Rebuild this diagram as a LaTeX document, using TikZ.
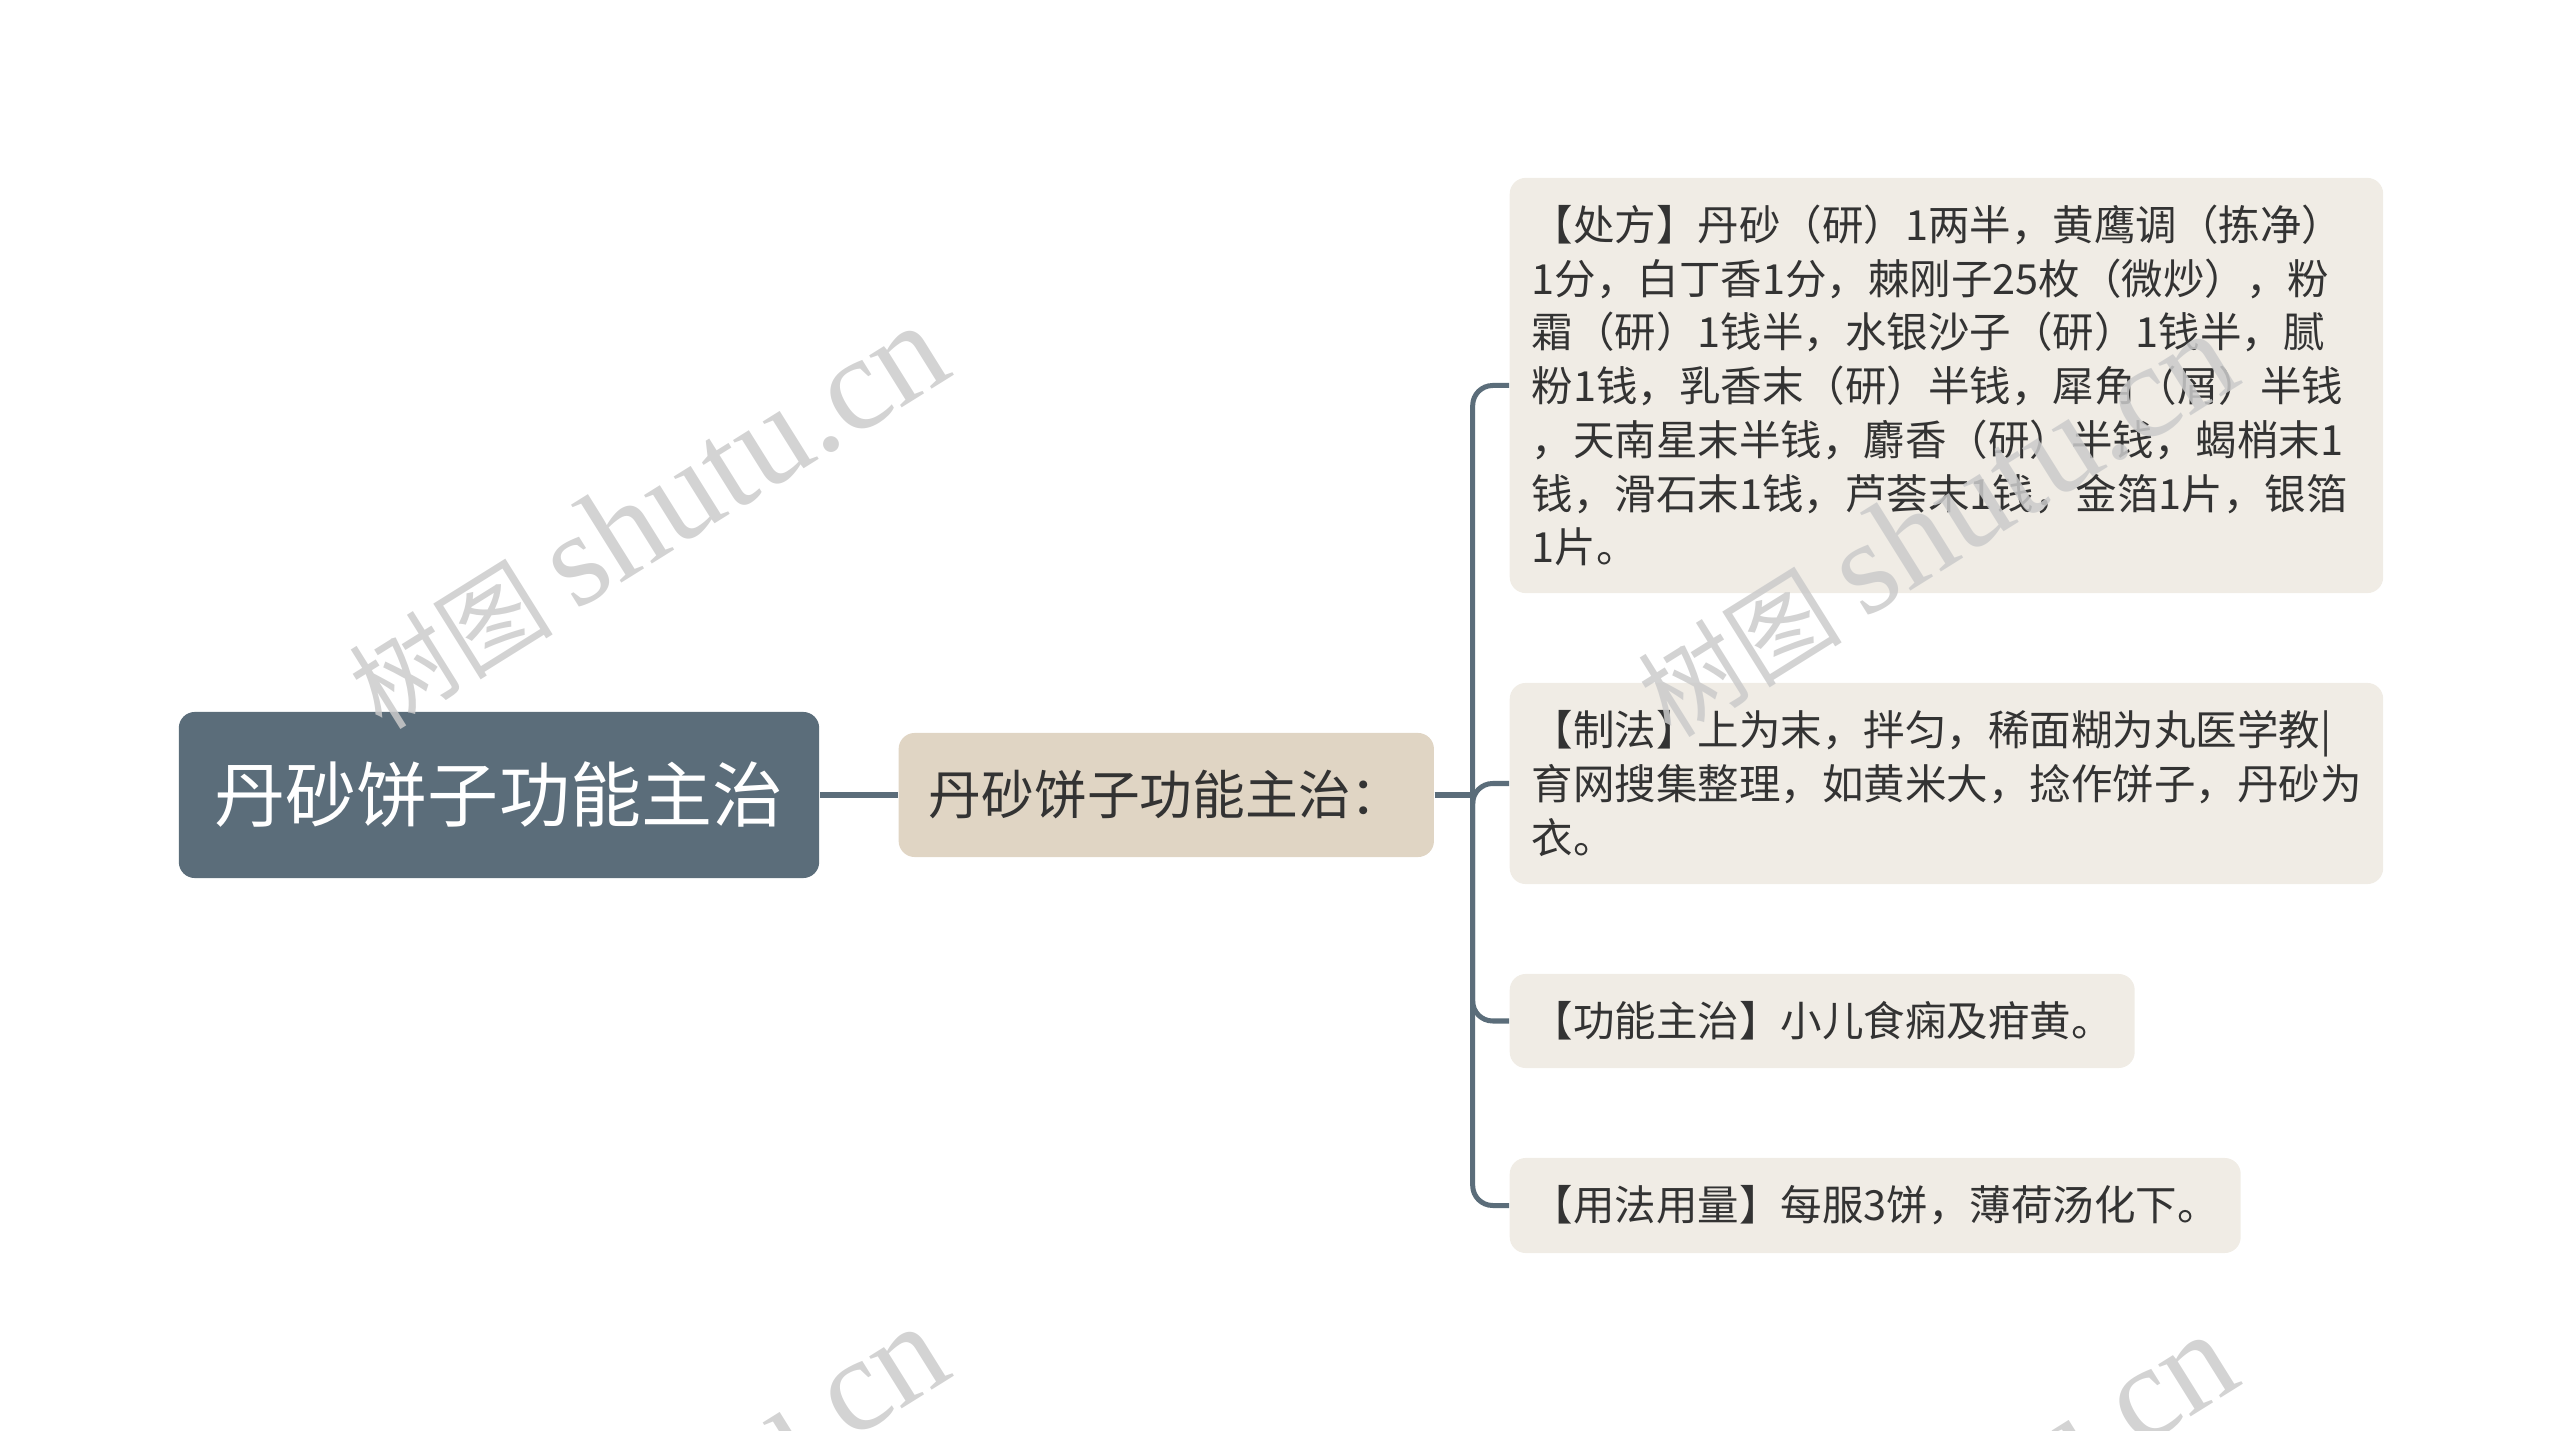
\documentclass[tikz,border=0pt]{standalone}
\usepackage{fontspec}
\setmainfont{Noto Sans CJK SC}
\newfontfamily\wmlatin{Liberation Serif}
\usetikzlibrary{positioning}
\definecolor{slate}{HTML}{5B6D7A}
\definecolor{sand}{HTML}{E0D5C4}
\definecolor{paper}{HTML}{F0ECE5}
\definecolor{ink}{HTML}{333333}
\definecolor{mark}{HTML}{CBCBCB}

\begin{document}
\begin{tikzpicture}[
      x=0.01cm, y=-0.01cm
    ]

    \tikzstyle{rootbox} = [rectangle, rounded corners=0.16cm, fill=slate, text=white, minimum width=6.40cm, minimum height=1.66cm, font=\fontsize{20.2pt}{24pt}\selectfont]

    \tikzstyle{subbox} = [rectangle, rounded corners=0.16cm, fill=sand, text=ink, minimum width=5.35cm, minimum height=1.24cm, font=\fontsize{15pt}{18pt}\selectfont]

    \tikzstyle{leafbox} = [rectangle, rounded corners=0.16cm, fill=paper, text=ink, align=left, inner xsep=0.22cm, inner ysep=0.26cm, font=\fontsize{11.8pt}{15.28pt}\selectfont]

    \tikzstyle{link} = [draw=slate, line width=0.05cm, rounded corners=0.2cm]

    \tikzstyle{watermark} = [text=mark, opacity=0.85, rotate=32, font=\fontsize{29pt}{34pt}\selectfont]

    \useasboundingbox (0,0) rectangle (2560,1431);

    \node [rootbox] (root) at (499,795) {丹砂饼子功能主治};
    \node [subbox] (sub) [right=0.78cm of root] {丹砂饼子功能主治：};

    \node [leafbox, text width=8.29cm, minimum height=4.15cm, anchor=west] (recipe) at (1509,385.5) {
    【处方】丹砂（研）1两半，黄鹰调（拣净）\\
    1分，白丁香1分，棘刚子25枚（微炒），粉\\
    霜（研）1钱半，水银沙子（研）1钱半，腻\\
    粉1钱，乳香末（研）半钱，犀角（屑）半钱\\
    ，天南星末半钱，麝香（研）半钱，蝎梢末1\\
    钱，滑石末1钱，芦荟末1钱，金箔1片，银箔\\
    1片。};
    \node [leafbox, text width=8.29cm, minimum height=2.01cm, anchor=west] (method) at (1509,783.5) {
    【制法】上为末，拌匀，稀面糊为丸医学教|\\
    育网搜集整理，如黄米大，捻作饼子，丹砂为\\
    衣。};
    \node [leafbox, minimum height=0.94cm, anchor=west] (usage) at (1509,1021) {【功能主治】小儿食痫及疳黄。};
    \node [leafbox, minimum height=0.95cm, anchor=west] (dosage) at (1509,1205.5) {【用法用量】每服3饼，薄荷汤化下。};

    \draw [link] (root.east) -- (sub.west);
    \coordinate (fork) at ([xshift=0.38cm]sub.east);
    \draw [link] (sub.east) -- (fork);
    \foreach \leaf in {recipe,method,usage,dosage}
      \draw [link] (fork) |- (\leaf.west);

    % watermarks
    \node [watermark] (markA) at (647,517) {树图 {\wmlatin\fontsize{38pt}{40pt}\selectfont shutu.cn}};
    \node [watermark] (markB) at (1936,525) {树图 {\wmlatin\fontsize{38pt}{40pt}\selectfont shutu.cn}};
    \node [watermark] (markC) at (647,1518) {树图 {\wmlatin\fontsize{38pt}{40pt}\selectfont shutu.cn}};
    \node [watermark] (markD) at (1936,1526) {树图 {\wmlatin\fontsize{38pt}{40pt}\selectfont shutu.cn}};

\end{tikzpicture}
\end{document}
